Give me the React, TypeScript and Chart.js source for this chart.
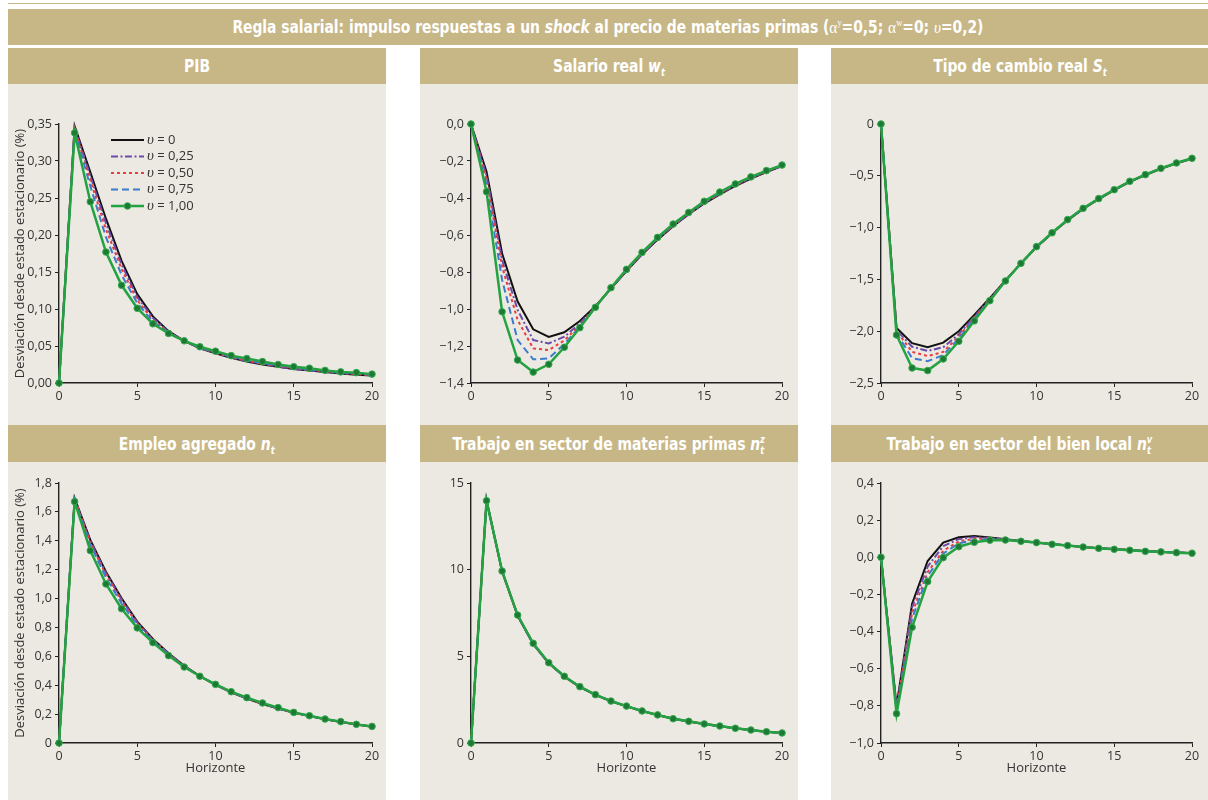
import React, { useEffect, useRef } from "react";
import { Chart, registerables } from "chart.js";

Chart.register(...registerables);

// ---------- DATA ----------
const HORIZON = [0, 1, 2, 3, 4, 5, 6, 7, 8, 9, 10, 11, 12, 13, 14, 15, 16, 17, 18, 19, 20];
const UPSILON_VALUES = ["0", "0,25", "0,50", "0,75", "1,00"];

// PIB
const PIB_V0 = [0, 0.347, 0.285, 0.222, 0.165, 0.120, 0.090, 0.070, 0.057, 0.047, 0.040, 0.034, 0.029, 0.025, 0.022, 0.019, 0.017, 0.015, 0.013, 0.011, 0.010];
const PIB_V25 = [0, 0.345, 0.280, 0.216, 0.160, 0.116, 0.088, 0.069, 0.057, 0.047, 0.040, 0.034, 0.030, 0.026, 0.022, 0.019, 0.017, 0.015, 0.013, 0.012, 0.010];
const PIB_V50 = [0, 0.343, 0.274, 0.208, 0.154, 0.112, 0.085, 0.068, 0.057, 0.048, 0.041, 0.035, 0.030, 0.026, 0.023, 0.020, 0.018, 0.016, 0.014, 0.012, 0.011];
const PIB_V75 = [0, 0.341, 0.266, 0.197, 0.146, 0.108, 0.083, 0.068, 0.057, 0.048, 0.041, 0.036, 0.031, 0.027, 0.024, 0.021, 0.018, 0.016, 0.014, 0.013, 0.011];
const PIB_V100 = [0, 0.338, 0.245, 0.177, 0.132, 0.101, 0.080, 0.067, 0.057, 0.049, 0.043, 0.037, 0.033, 0.029, 0.025, 0.022, 0.020, 0.017, 0.015, 0.014, 0.012];

// Salario real w_t
const SAL_V0 = [0, -0.258, -0.700, -0.960, -1.110, -1.151, -1.126, -1.065, -0.985, -0.890, -0.795, -0.705, -0.625, -0.553, -0.488, -0.430, -0.380, -0.335, -0.295, -0.260, -0.228];
const SAL_V25 = [0, -0.280, -0.735, -1.005, -1.168, -1.186, -1.150, -1.078, -0.988, -0.889, -0.793, -0.703, -0.622, -0.550, -0.485, -0.427, -0.377, -0.332, -0.293, -0.258, -0.226];
const SAL_V50 = [0, -0.300, -0.771, -1.060, -1.213, -1.222, -1.170, -1.088, -0.990, -0.888, -0.791, -0.701, -0.620, -0.548, -0.483, -0.425, -0.374, -0.330, -0.291, -0.256, -0.225];
const SAL_V75 = [0, -0.330, -0.843, -1.168, -1.272, -1.267, -1.190, -1.095, -0.991, -0.887, -0.789, -0.698, -0.617, -0.545, -0.481, -0.422, -0.371, -0.327, -0.289, -0.254, -0.224];
const SAL_V100 = [0, -0.366, -1.015, -1.276, -1.341, -1.299, -1.207, -1.101, -0.991, -0.885, -0.786, -0.694, -0.613, -0.541, -0.478, -0.418, -0.368, -0.324, -0.286, -0.252, -0.222];

// Tipo de cambio real S_t
const TC_V0 = [0, -1.970, -2.115, -2.155, -2.110, -2.000, -1.842, -1.680, -1.510, -1.345, -1.190, -1.055, -0.930, -0.820, -0.725, -0.638, -0.558, -0.493, -0.432, -0.380, -0.335];
const TC_V25 = [0, -1.990, -2.150, -2.190, -2.155, -2.030, -1.860, -1.688, -1.512, -1.345, -1.188, -1.054, -0.928, -0.818, -0.723, -0.636, -0.556, -0.491, -0.430, -0.378, -0.333];
const TC_V50 = [0, -2.000, -2.200, -2.240, -2.200, -2.050, -1.870, -1.695, -1.513, -1.345, -1.187, -1.052, -0.926, -0.817, -0.722, -0.635, -0.555, -0.490, -0.429, -0.377, -0.332];
const TC_V75 = [0, -2.020, -2.260, -2.290, -2.230, -2.070, -1.882, -1.700, -1.514, -1.345, -1.185, -1.051, -0.925, -0.815, -0.721, -0.634, -0.554, -0.489, -0.428, -0.376, -0.331];
const TC_V100 = [0, -2.036, -2.355, -2.380, -2.268, -2.097, -1.900, -1.705, -1.515, -1.345, -1.184, -1.050, -0.923, -0.814, -0.720, -0.634, -0.553, -0.489, -0.428, -0.376, -0.331];

// Empleo agregado n_t
const EMP_V0 = [0, 1.694, 1.406, 1.186, 1.002, 0.840, 0.720, 0.621, 0.535, 0.463, 0.402, 0.351, 0.308, 0.270, 0.238, 0.210, 0.186, 0.164, 0.145, 0.128, 0.113];
const EMP_V25 = [0, 1.690, 1.398, 1.176, 0.993, 0.834, 0.715, 0.618, 0.533, 0.463, 0.403, 0.352, 0.309, 0.272, 0.239, 0.211, 0.187, 0.165, 0.146, 0.128, 0.114];
const EMP_V50 = [0, 1.686, 1.388, 1.164, 0.982, 0.827, 0.711, 0.615, 0.531, 0.462, 0.404, 0.353, 0.310, 0.273, 0.240, 0.211, 0.187, 0.165, 0.146, 0.129, 0.114];
const EMP_V75 = [0, 1.681, 1.372, 1.145, 0.965, 0.816, 0.705, 0.611, 0.529, 0.462, 0.405, 0.354, 0.312, 0.275, 0.242, 0.212, 0.188, 0.166, 0.147, 0.129, 0.115];
const EMP_V100 = [0, 1.671, 1.332, 1.101, 0.930, 0.797, 0.695, 0.605, 0.526, 0.462, 0.406, 0.355, 0.314, 0.277, 0.245, 0.212, 0.189, 0.166, 0.148, 0.129, 0.115];

// Trabajo en sector de materias primas n_t^z
const MP_V0 = [0, 14.00, 9.90, 7.33, 5.70, 4.60, 3.83, 3.23, 2.78, 2.41, 2.12, 1.84, 1.61, 1.40, 1.24, 1.09, 0.97, 0.85, 0.74, 0.65, 0.57];
const MP_V25 = [0, 14.00, 9.91, 7.34, 5.71, 4.61, 3.83, 3.24, 2.78, 2.41, 2.12, 1.84, 1.61, 1.40, 1.24, 1.09, 0.97, 0.85, 0.74, 0.65, 0.57];
const MP_V50 = [0, 13.99, 9.91, 7.35, 5.72, 4.61, 3.84, 3.24, 2.79, 2.42, 2.12, 1.85, 1.62, 1.40, 1.25, 1.10, 0.98, 0.85, 0.75, 0.65, 0.58];
const MP_V75 = [0, 13.99, 9.92, 7.36, 5.73, 4.62, 3.84, 3.25, 2.79, 2.42, 2.13, 1.85, 1.62, 1.40, 1.25, 1.10, 0.98, 0.85, 0.75, 0.65, 0.58];
const MP_V100 = [0, 13.98, 9.92, 7.38, 5.75, 4.63, 3.85, 3.25, 2.79, 2.42, 2.13, 1.85, 1.62, 1.40, 1.25, 1.10, 0.98, 0.85, 0.75, 0.65, 0.58];

// Trabajo en sector del bien local n_t^v
const BL_V0 = [0, -0.800, -0.250, -0.020, 0.079, 0.108, 0.115, 0.106, 0.097, 0.088, 0.080, 0.071, 0.063, 0.056, 0.049, 0.044, 0.039, 0.034, 0.030, 0.026, 0.023];
const BL_V25 = [0, -0.810, -0.270, -0.050, 0.060, 0.098, 0.108, 0.103, 0.096, 0.087, 0.079, 0.071, 0.063, 0.056, 0.049, 0.044, 0.038, 0.033, 0.029, 0.026, 0.022];
const BL_V50 = [0, -0.820, -0.300, -0.080, 0.035, 0.085, 0.100, 0.100, 0.095, 0.087, 0.079, 0.070, 0.063, 0.055, 0.049, 0.043, 0.038, 0.033, 0.029, 0.025, 0.022];
const BL_V75 = [0, -0.830, -0.330, -0.100, 0.020, 0.075, 0.093, 0.097, 0.094, 0.086, 0.079, 0.070, 0.063, 0.055, 0.048, 0.043, 0.038, 0.033, 0.029, 0.025, 0.022];
const BL_V100 = [0, -0.842, -0.377, -0.131, -0.002, 0.057, 0.081, 0.092, 0.093, 0.086, 0.079, 0.070, 0.063, 0.055, 0.048, 0.043, 0.038, 0.032, 0.029, 0.025, 0.022];

// ---------- STYLES ----------
const TAN = "#C8B786";
const PANEL_BG = "#ECE9E2";
const TEXT = "#333333";
const TICK_FONT = "'Open Sans', 'DejaVu Sans', sans-serif";
const TITLE_FONT = "'DejaVu Sans Condensed', 'Open Sans', sans-serif";

const LINE_STYLES = [
  { color: "#111111", dash: [] as number[], width: 2, points: false },
  { color: "#6A4CA8", dash: [7, 2.5, 2, 2.5], width: 2, points: false },
  { color: "#EC3A3D", dash: [3, 3], width: 2, points: false },
  { color: "#3D7CCB", dash: [7, 4], width: 2, points: false },
  { color: "#22A33F", dash: [] as number[], width: 2.5, points: true },
];

const minus = (v: number) => (v < -1e-9 ? "\u2212" : "");
const fmtDec = (d: number) => (v: number) => minus(v) + Math.abs(v).toFixed(d).replace(".", ",");
const fmtDecZero = (d: number) => (v: number) => (Math.abs(v) < 1e-9 ? "0" : fmtDec(d)(v));
const fmtInt = (v: number) => Math.round(v).toString();

const legendPlugin = {
  id: "vlegend",
  afterDatasetsDraw(chart: any) {
    const { ctx, chartArea } = chart;
    const x0 = chartArea.left + 52;
    const x1 = chartArea.left + 85;
    const tx = chartArea.left + 88;
    chart.data.datasets.forEach((ds: any, i: number) => {
      const y = chartArea.top + 16 + i * 16.5;
      ctx.save();
      ctx.strokeStyle = ds.borderColor;
      ctx.lineWidth = ds.borderWidth;
      ctx.setLineDash(ds.borderDash || []);
      ctx.beginPath();
      ctx.moveTo(x0, y);
      ctx.lineTo(x1, y);
      ctx.stroke();
      if (ds.pointRadius > 0) {
        ctx.setLineDash([]);
        ctx.beginPath();
        ctx.arc((x0 + x1) / 2, y, ds.pointRadius, 0, Math.PI * 2);
        ctx.fillStyle = ds.pointBackgroundColor;
        ctx.fill();
        ctx.lineWidth = ds.pointBorderWidth;
        ctx.strokeStyle = ds.pointBorderColor;
        ctx.stroke();
      }
      ctx.fillStyle = TEXT;
      ctx.textBaseline = "middle";
      ctx.textAlign = "left";
      ctx.font = "italic 15px 'Liberation Serif', serif";
      ctx.fillText("\u03C5", tx, y);
      const w = ctx.measureText("\u03C5").width;
      ctx.font = `13px ${TICK_FONT}`;
      ctx.fillText(" = " + UPSILON_VALUES[i], tx + w, y);
      ctx.restore();
    });
  },
};

type PanelCfg = {
  key: string;
  series: number[][];
  min: number;
  max: number;
  step: number;
  fmt: (v: number) => string;
  row: number;
  col: number;
  yTitle: boolean;
  legend: boolean;
};

const PANELS: PanelCfg[] = [
  { key: "pib", series: [PIB_V0, PIB_V25, PIB_V50, PIB_V75, PIB_V100], min: 0, max: 0.35, step: 0.05, fmt: fmtDec(2), row: 0, col: 0, yTitle: true, legend: true },
  { key: "sal", series: [SAL_V0, SAL_V25, SAL_V50, SAL_V75, SAL_V100], min: -1.4, max: 0, step: 0.2, fmt: fmtDec(1), row: 0, col: 1, yTitle: false, legend: false },
  { key: "tc", series: [TC_V0, TC_V25, TC_V50, TC_V75, TC_V100], min: -2.5, max: 0, step: 0.5, fmt: fmtDecZero(1), row: 0, col: 2, yTitle: false, legend: false },
  { key: "emp", series: [EMP_V0, EMP_V25, EMP_V50, EMP_V75, EMP_V100], min: 0, max: 1.8, step: 0.2, fmt: fmtDecZero(1), row: 1, col: 0, yTitle: true, legend: false },
  { key: "mp", series: [MP_V0, MP_V25, MP_V50, MP_V75, MP_V100], min: 0, max: 15, step: 5, fmt: fmtInt, row: 1, col: 1, yTitle: false, legend: false },
  { key: "bl", series: [BL_V0, BL_V25, BL_V50, BL_V75, BL_V100], min: -1.0, max: 0.4, step: 0.2, fmt: fmtDec(1), row: 1, col: 2, yTitle: false, legend: false },
];

// layout geometry (pixels)
const COL_BG = [
  { left: 8, width: 378 },
  { left: 420, width: 378 },
  { left: 831, width: 377 },
];
const CANVAS_COL = [
  { left: 8, width: 378, padRight: 14 },
  { left: 420, width: 378, padRight: 16 },
  { left: 830, width: 378, padRight: 16 },
];
const CANVAS_ROW = [
  { top: 84, height: 336, padTop: 40, padBottom: 0, xHeight: 37, xTitle: false },
  { top: 462, height: 338, padTop: 21, padBottom: 19, xHeight: 38, xTitle: true },
];
const BANNER_ROW = [
  { top: 48, height: 36 },
  { top: 425, height: 37 },
];

function ChartPanel({ cfg }: { cfg: PanelCfg }) {
  const ref = useRef<HTMLCanvasElement | null>(null);
  const c = CANVAS_COL[cfg.col];
  const r = CANVAS_ROW[cfg.row];

  useEffect(() => {
    if (!ref.current) return;
    const datasets = cfg.series.map((vals, i) => {
      const st = LINE_STYLES[i];
      return {
        label: "\u03C5 = " + UPSILON_VALUES[i],
        data: vals.map((y, j) => ({ x: HORIZON[j], y })),
        borderColor: st.color,
        backgroundColor: st.color,
        borderDash: st.dash,
        borderWidth: st.width,
        pointRadius: st.points ? 3.3 : 0,
        pointHoverRadius: st.points ? 3.3 : 0,
        pointBackgroundColor: "#1C7A34",
        pointBorderColor: "#35A94E",
        pointBorderWidth: 1,
        tension: 0,
        fill: false,
        clip: false as any,
        order: 4 - i,
      };
    });
    const chart = new Chart(ref.current, {
      type: "line",
      data: { datasets },
      options: {
        responsive: false,
        maintainAspectRatio: false,
        animation: false,
        layout: { padding: { left: 0, right: c.padRight, top: r.padTop, bottom: r.padBottom } },
        plugins: { legend: { display: false }, tooltip: { enabled: false } },
        scales: {
          x: {
            type: "linear",
            min: 0,
            max: 20,
            afterFit: (s: any) => {
              s.height = r.xHeight;
            },
            ticks: {
              stepSize: 5,
              color: TEXT,
              font: { family: TICK_FONT, size: 12.5 },
              padding: 2,
              maxRotation: 0,
              callback: (v: any) => fmtInt(Number(v)),
            },
            grid: { display: true, drawOnChartArea: false, drawTicks: true, tickLength: 4, tickColor: "#222", color: "#222" },
            border: { display: true, color: "#222", width: 1.4, dash: [3, 1.5] },
            title: {
              display: r.xTitle,
              text: "Horizonte",
              color: TEXT,
              font: { family: TICK_FONT, size: 13 },
              padding: { top: 0, bottom: 5 },
            },
          },
          y: {
            type: "linear",
            min: cfg.min,
            max: cfg.max,
            afterFit: (s: any) => {
              s.width = 51;
            },
            ticks: {
              stepSize: cfg.step,
              color: TEXT,
              font: { family: TICK_FONT, size: 12.5 },
              padding: 3,
              callback: (v: any) => cfg.fmt(Number(v)),
            },
            grid: { display: true, drawOnChartArea: false, drawTicks: true, tickLength: 4, tickColor: "#222", color: "#222" },
            border: { display: true, color: "#222", width: 1.4, dash: [3, 1.5] },
            title: {
              display: cfg.yTitle,
              text: "Desviación desde estado estacionario (%)",
              color: TEXT,
              font: { family: TICK_FONT, size: 13 },
              padding: { top: 4, bottom: 0 },
            },
          },
        },
      } as any,
      plugins: cfg.legend ? [legendPlugin as any] : [],
    });
    return () => chart.destroy();
  }, []);

  return (
    <canvas
      ref={ref}
      width={c.width}
      height={r.height}
      style={{ position: "absolute", left: c.left, top: r.top, width: c.width, height: r.height }}
    />
  );
}

const sub = (t: string) => (
  <span style={{ fontSize: "0.6em", position: "relative", top: "0.35em", fontStyle: "italic" }}>{t}</span>
);

function SubSup({ sub: s, sup }: { sub: string; sup: string }) {
  return (
    <>
      <span style={{ fontSize: "0.6em", position: "relative", top: "0.35em", fontStyle: "italic" }}>{s}</span>
      <span style={{ fontSize: "0.6em", position: "relative", top: "-0.65em", fontStyle: "italic", marginLeft: "-0.45em" }}>{sup}</span>
    </>
  );
}

const PANEL_TITLES: React.ReactNode[] = [
  <>PIB</>,
  <>Salario real <i>w</i>{sub("t")}</>,
  <>Tipo de cambio real <i>S</i>{sub("t")}</>,
  <>Empleo agregado <i>n</i>{sub("t")}</>,
  <>Trabajo en sector de materias primas <i>n</i><SubSup sub="t" sup="z" /></>,
  <>Trabajo en sector del bien local <i>n</i><SubSup sub="t" sup="v" /></>,
];

const greek: React.CSSProperties = { fontFamily: "'Liberation Serif', serif", fontWeight: "normal" };
const supS: React.CSSProperties = { fontSize: "0.55em", position: "relative", top: "-0.7em", ...greek };

const squeeze = (k: number): React.CSSProperties => ({
  display: "inline-block",
  transform: `scaleX(${k})`,
  transformOrigin: "center",
});

export default function App() {
  return (
    <div style={{ position: "absolute", left: 0, top: 0, width: 1208, height: 800, background: "#fff", overflow: "hidden" }}>
      <div style={{ position: "absolute", left: 8, top: 3, width: 1200, height: 1, background: TAN }} />
      <div
        style={{
          position: "absolute",
          left: 8,
          top: 9,
          width: 1200,
          height: 36,
          background: TAN,
          color: "#fff",
          fontFamily: TITLE_FONT,
          fontWeight: "bold",
          fontSize: 17,
          lineHeight: "36px",
          textAlign: "center",
          whiteSpace: "nowrap",
        }}
      >
        <span style={squeeze(0.905)}>
          Regla salarial: impulso respuestas a un <i>shock</i> al precio de materias primas (
          <span style={greek}>α</span>
          <span style={supS}>y</span>=0,5; <span style={greek}>α</span>
          <span style={supS}>w</span>=0; <span style={{ ...greek, fontStyle: "italic" }}>υ</span>=0,2)
        </span>
      </div>
      {COL_BG.map((cb, i) => (
        <div key={"bg" + i} style={{ position: "absolute", left: cb.left, top: 84, width: cb.width, height: 716, background: PANEL_BG }} />
      ))}
      {PANELS.map((p, idx) => {
        const cb = COL_BG[p.col];
        const br = BANNER_ROW[p.row];
        return (
          <div
            key={"banner" + p.key}
            style={{
              position: "absolute",
              left: cb.left,
              top: br.top,
              width: cb.width,
              height: br.height,
              background: TAN,
              color: "#fff",
              fontFamily: TITLE_FONT,
              fontWeight: "bold",
              fontSize: 18,
              lineHeight: br.height + "px",
              textAlign: "center",
              whiteSpace: "nowrap",
            }}
          >
            <span style={squeeze(0.86)}>{PANEL_TITLES[idx]}</span>
          </div>
        );
      })}
      {PANELS.map((p) => (
        <ChartPanel key={p.key} cfg={p} />
      ))}
    </div>
  );
}
